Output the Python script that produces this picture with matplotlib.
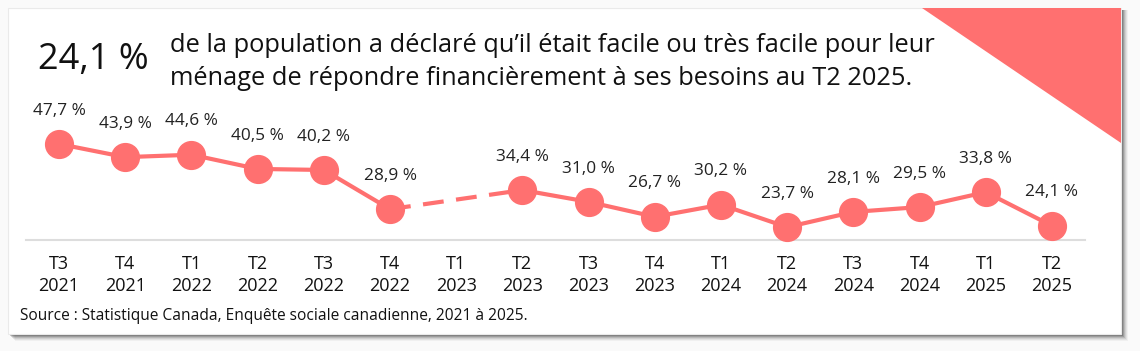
import numpy as np
import matplotlib.pyplot as plt
from matplotlib.patches import Rectangle, Polygon

plt.rcParams['font.family'] = ['Open Sans', 'DejaVu Sans']

# data
quarters = ["T3\n2021", "T4\n2021", "T1\n2022", "T2\n2022", "T3\n2022", "T4\n2022",
            "T1\n2023", "T2\n2023", "T3\n2023", "T4\n2023", "T1\n2024", "T2\n2024",
            "T3\n2024", "T4\n2024", "T1\n2025", "T2\n2025"]
values = [47.7, 43.9, 44.6, 40.5, 40.2, 28.9, np.nan, 34.4, 31.0, 26.7, 30.2, 23.7,
          28.1, 29.5, 33.8, 24.1]
headline = "24,1 %"
description = ("de la population a déclaré qu’il était facile ou très facile pour leur\n"
               "ménage de répondre financièrement à ses besoins au T2 2025.")
source = "Source : Statistique Canada, Enquête sociale canadienne, 2021 à 2025."

coral = "#FF7070"
W, H = 1140, 351

fig = plt.figure(figsize=(W / 100, H / 100), dpi=100)
fig.patch.set_facecolor("#fafafa")

# background card with shadow, in pixel coordinates
bg = fig.add_axes([0, 0, 1, 1], zorder=0)
bg.set_xlim(0, W)
bg.set_ylim(H, 0)
bg.axis("off")
for i, a in enumerate([0.04, 0.06, 0.08, 0.11, 0.15, 0.2]):
    off = 7 - i
    bg.add_patch(Rectangle((8 + off, 10), 1113, 324 + off,
                           facecolor="black", alpha=a, edgecolor="none"))
bg.add_patch(Rectangle((8, 8), 1113, 326, facecolor="white", edgecolor="#eaeaea", lw=0.8))
bg.add_patch(Polygon([(922, 8), (1121, 8), (1121, 143)], closed=True,
                     facecolor=coral, edgecolor="none"))

# headline text
bg.text(38, 60, headline, fontsize=26, va="center", ha="left", color="#111111")
bg.text(170, 62, description, fontsize=18.3, va="center", ha="left", color="#111111",
        linespacing=1.45)
bg.text(20, 316, source, fontsize=11.2, va="center", ha="left", color="#111111")

# line chart
x = np.arange(len(quarters))
left, right = 26, 1085
base_y, top_y = 240, 136
ax = fig.add_axes([left / W, 1 - base_y / H, (right - left) / W, (base_y - top_y) / H], zorder=2)
ax.set_facecolor("none")
ax.set_xlim(-0.5, len(quarters) - 0.5)
ax.set_ylim(20, 50)

ax.plot(x, values, color=coral, lw=3, solid_capstyle="butt", clip_on=False, zorder=3)
ax.plot([5, 7], [values[5], values[7]], color=coral, lw=3, linestyle=(0, (5, 3)),
        clip_on=False, zorder=3)
ax.plot(x, values, "o", color=coral, markersize=20, clip_on=False, zorder=4)

for xi, v in zip(x, values):
    if np.isnan(v):
        continue
    ax.annotate(f"{v:.1f} %".replace(".", ","), (xi, v), xytext=(0, 24),
                textcoords="offset points", ha="center", va="center",
                fontsize=12.4, color="#222222", annotation_clip=False)

ax.set_xticks(x)
ax.set_xticklabels(quarters, fontsize=13, color="#111111", linespacing=1.25)
ax.tick_params(axis="x", length=0, pad=11)
ax.set_yticks([])
for s in ["top", "right", "left"]:
    ax.spines[s].set_visible(False)
ax.spines["bottom"].set_color("#dddddd")
ax.spines["bottom"].set_linewidth(1.5)
ax.spines["bottom"].set_zorder(1)

fig.savefig("out.png", dpi=100, facecolor=fig.get_facecolor())
